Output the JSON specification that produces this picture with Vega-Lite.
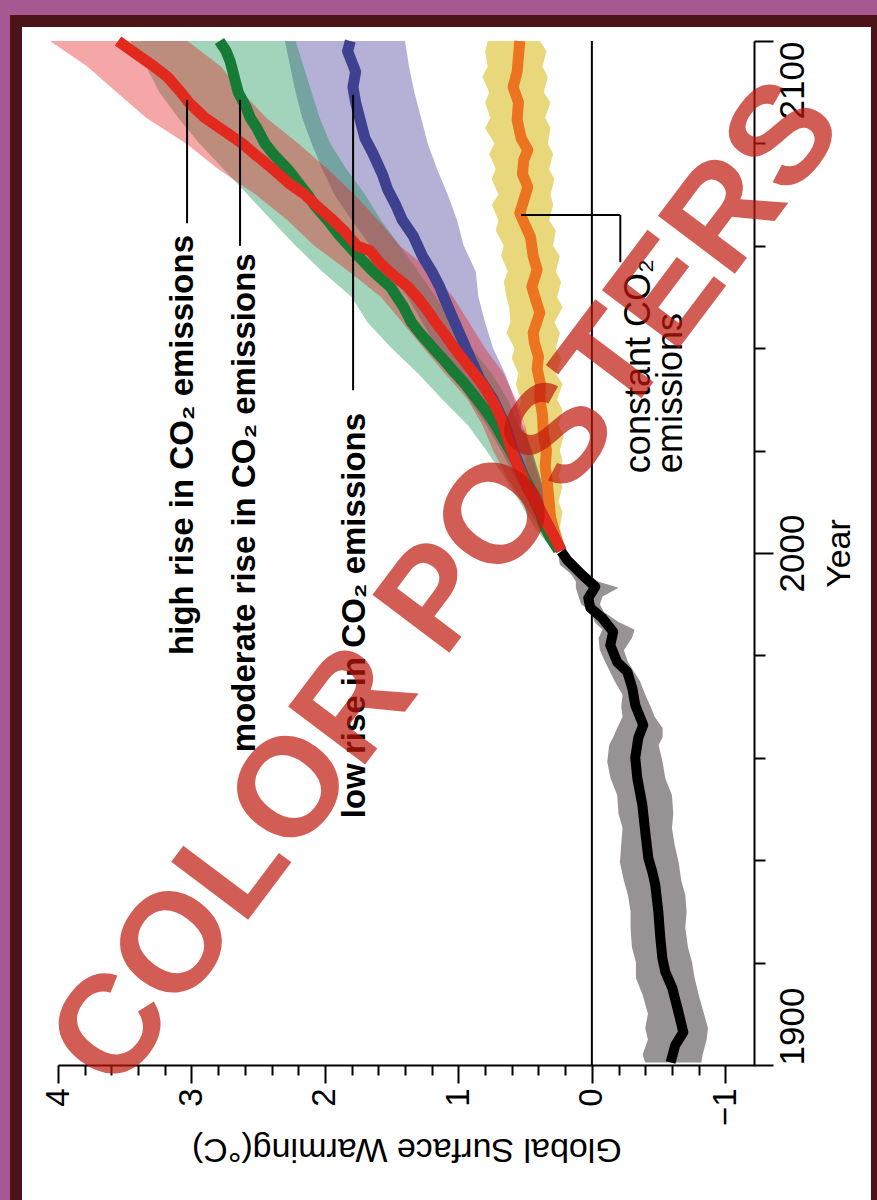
{
  "$schema": "https://vega.github.io/schema/vega-lite/v6.json",
  "width": 861,
  "height": 1187,
  "autosize": {"type": "none"},
  "padding": {"left": 16, "top": 21, "right": 0, "bottom": -8},
  "background": "#a65891",
  "config": {
    "view": {"fill": "#ffffff", "stroke": "#4b1418", "strokeWidth": 12},
    "font": "Liberation Sans"
  },
  "datasets": {
    "zero": [{"w": 0, "w2": 0, "year": 1900, "year2": 2100}],
    "hist_band": [
      {"year": 1900.5, "w": -0.82, "w2": -0.4}, {"year": 1902, "w": -0.83, "w2": -0.38}, {"year": 1905, "w": -0.86, "w2": -0.42},
      {"year": 1907.2, "w": -0.87, "w2": -0.4}, {"year": 1910, "w": -0.84, "w2": -0.42}, {"year": 1913.7, "w": -0.8, "w2": -0.38},
      {"year": 1917, "w": -0.77, "w2": -0.33}, {"year": 1920.1, "w": -0.75, "w2": -0.33}, {"year": 1923, "w": -0.72, "w2": -0.3},
      {"year": 1926.8, "w": -0.7, "w2": -0.29}, {"year": 1930, "w": -0.71, "w2": -0.29}, {"year": 1933.2, "w": -0.7, "w2": -0.27},
      {"year": 1936, "w": -0.67, "w2": -0.24}, {"year": 1939.6, "w": -0.65, "w2": -0.21}, {"year": 1943, "w": -0.62, "w2": -0.22},
      {"year": 1946.3, "w": -0.6, "w2": -0.23}, {"year": 1949, "w": -0.61, "w2": -0.2}, {"year": 1952.7, "w": -0.6, "w2": -0.19},
      {"year": 1956, "w": -0.55, "w2": -0.14}, {"year": 1959.2, "w": -0.53, "w2": -0.115}, {"year": 1962.5, "w": -0.5, "w2": -0.13},
      {"year": 1964, "w": -0.53, "w2": -0.16}, {"year": 1965.8, "w": -0.53, "w2": -0.19}, {"year": 1968, "w": -0.47, "w2": -0.23},
      {"year": 1970, "w": -0.44, "w2": -0.22}, {"year": 1972.3, "w": -0.4, "w2": -0.23}, {"year": 1975, "w": -0.36, "w2": -0.17},
      {"year": 1978.7, "w": -0.27, "w2": -0.1}, {"year": 1981, "w": -0.24, "w2": -0.06}, {"year": 1983.4, "w": -0.3, "w2": -0.05},
      {"year": 1985, "w": -0.32, "w2": -0.08}, {"year": 1986.5, "w": -0.2, "w2": -0.02}, {"year": 1988.5, "w": -0.09, "w2": 0.0},
      {"year": 1990, "w": -0.06, "w2": 0.08}, {"year": 1991.5, "w": -0.08, "w2": 0.1}, {"year": 1993.2, "w": -0.2, "w2": 0.12},
      {"year": 1994.5, "w": -0.04, "w2": 0.12}, {"year": 1996, "w": 0.03, "w2": 0.16}, {"year": 1997.7, "w": 0.12, "w2": 0.24},
      {"year": 1999.5, "w": 0.17, "w2": 0.25}
    ],
    "hist_line": [
      {"year": 1900.5, "w": -0.59}, {"year": 1903.9, "w": -0.625}, {"year": 1906.4, "w": -0.685}, {"year": 1910.4, "w": -0.648},
      {"year": 1915.0, "w": -0.603}, {"year": 1918.2, "w": -0.55}, {"year": 1920.9, "w": -0.528}, {"year": 1924.8, "w": -0.513},
      {"year": 1929.9, "w": -0.498}, {"year": 1935.2, "w": -0.475}, {"year": 1937.7, "w": -0.453}, {"year": 1940.4, "w": -0.423},
      {"year": 1945.5, "w": -0.4}, {"year": 1950.8, "w": -0.378}, {"year": 1956.1, "w": -0.34}, {"year": 1960.0, "w": -0.325},
      {"year": 1963.9, "w": -0.348}, {"year": 1966.4, "w": -0.385}, {"year": 1970.3, "w": -0.325}, {"year": 1973.6, "w": -0.303},
      {"year": 1976.8, "w": -0.265}, {"year": 1978.7, "w": -0.19}, {"year": 1982.0, "w": -0.138}, {"year": 1984.6, "w": -0.16},
      {"year": 1987.3, "w": -0.078}, {"year": 1989.3, "w": 0.012}, {"year": 1991.2, "w": 0.027}, {"year": 1993.4, "w": -0.025},
      {"year": 1995.7, "w": 0.072}, {"year": 1998.6, "w": 0.184}, {"year": 2000.3, "w": 0.23}
    ],
    "band_const": [
      {"year": 2000.5, "w": 0.19, "w2": 0.29}, {"year": 2003, "w": 0.22, "w2": 0.36}, {"year": 2005, "w": 0.24, "w2": 0.4},
      {"year": 2008, "w": 0.22, "w2": 0.42}, {"year": 2010, "w": 0.25, "w2": 0.44}, {"year": 2013, "w": 0.22, "w2": 0.47},
      {"year": 2015, "w": 0.25, "w2": 0.46}, {"year": 2018, "w": 0.22, "w2": 0.5}, {"year": 2020, "w": 0.24, "w2": 0.48},
      {"year": 2023, "w": 0.21, "w2": 0.52}, {"year": 2025, "w": 0.25, "w2": 0.5}, {"year": 2028, "w": 0.22, "w2": 0.55},
      {"year": 2030, "w": 0.26, "w2": 0.53}, {"year": 2033, "w": 0.22, "w2": 0.57}, {"year": 2035, "w": 0.27, "w2": 0.55},
      {"year": 2038, "w": 0.23, "w2": 0.6}, {"year": 2040, "w": 0.27, "w2": 0.58}, {"year": 2043, "w": 0.24, "w2": 0.64},
      {"year": 2045, "w": 0.28, "w2": 0.61}, {"year": 2048, "w": 0.22, "w2": 0.62}, {"year": 2050, "w": 0.26, "w2": 0.64},
      {"year": 2053, "w": 0.23, "w2": 0.66}, {"year": 2055, "w": 0.27, "w2": 0.63}, {"year": 2058, "w": 0.24, "w2": 0.68},
      {"year": 2060, "w": 0.29, "w2": 0.66}, {"year": 2063, "w": 0.27, "w2": 0.72}, {"year": 2065, "w": 0.32, "w2": 0.7},
      {"year": 2068, "w": 0.29, "w2": 0.75}, {"year": 2070, "w": 0.31, "w2": 0.7}, {"year": 2073, "w": 0.28, "w2": 0.75},
      {"year": 2075, "w": 0.32, "w2": 0.72}, {"year": 2078, "w": 0.29, "w2": 0.77}, {"year": 2080, "w": 0.33, "w2": 0.73},
      {"year": 2083, "w": 0.31, "w2": 0.8}, {"year": 2085, "w": 0.35, "w2": 0.76}, {"year": 2088, "w": 0.31, "w2": 0.8},
      {"year": 2090, "w": 0.36, "w2": 0.77}, {"year": 2093, "w": 0.33, "w2": 0.82}, {"year": 2095, "w": 0.37, "w2": 0.78},
      {"year": 2098, "w": 0.34, "w2": 0.8}, {"year": 2100, "w": 0.39, "w2": 0.78}
    ],
    "band_low": [
      {"year": 2000.5, "w": 0.2, "w2": 0.27}, {"year": 2005, "w": 0.26, "w2": 0.37}, {"year": 2010, "w": 0.33, "w2": 0.47},
      {"year": 2015, "w": 0.39, "w2": 0.58}, {"year": 2020, "w": 0.45, "w2": 0.68}, {"year": 2025, "w": 0.52, "w2": 0.79},
      {"year": 2030, "w": 0.58, "w2": 0.92}, {"year": 2035, "w": 0.65, "w2": 1.04}, {"year": 2040, "w": 0.74, "w2": 1.16},
      {"year": 2045, "w": 0.8, "w2": 1.27}, {"year": 2050, "w": 0.85, "w2": 1.38}, {"year": 2055, "w": 0.87, "w2": 1.52},
      {"year": 2060, "w": 0.96, "w2": 1.66}, {"year": 2065, "w": 1.01, "w2": 1.8}, {"year": 2070, "w": 1.08, "w2": 1.93},
      {"year": 2075, "w": 1.16, "w2": 2.02}, {"year": 2080, "w": 1.23, "w2": 2.1}, {"year": 2085, "w": 1.28, "w2": 2.17},
      {"year": 2090, "w": 1.33, "w2": 2.22}, {"year": 2095, "w": 1.37, "w2": 2.26}, {"year": 2100, "w": 1.4, "w2": 2.3}
    ],
    "band_mod": [
      {"year": 2000.5, "w": 0.21, "w2": 0.29}, {"year": 2005, "w": 0.28, "w2": 0.43}, {"year": 2010, "w": 0.33, "w2": 0.54},
      {"year": 2015, "w": 0.39, "w2": 0.66}, {"year": 2020, "w": 0.45, "w2": 0.79}, {"year": 2025, "w": 0.55, "w2": 0.93},
      {"year": 2030, "w": 0.63, "w2": 1.12}, {"year": 2035, "w": 0.75, "w2": 1.3}, {"year": 2040, "w": 0.9, "w2": 1.5},
      {"year": 2045, "w": 1.05, "w2": 1.68}, {"year": 2050, "w": 1.17, "w2": 1.8}, {"year": 2055, "w": 1.3, "w2": 2.02},
      {"year": 2060, "w": 1.44, "w2": 2.22}, {"year": 2065, "w": 1.58, "w2": 2.4}, {"year": 2070, "w": 1.7, "w2": 2.58},
      {"year": 2075, "w": 1.84, "w2": 2.76}, {"year": 2080, "w": 1.96, "w2": 2.94}, {"year": 2085, "w": 2.04, "w2": 3.1},
      {"year": 2090, "w": 2.1, "w2": 3.24}, {"year": 2095, "w": 2.16, "w2": 3.34}, {"year": 2100, "w": 2.22, "w2": 3.46}
    ],
    "band_high": [
      {"year": 2000.5, "w": 0.19, "w2": 0.27}, {"year": 2005, "w": 0.25, "w2": 0.39}, {"year": 2010, "w": 0.33, "w2": 0.52},
      {"year": 2015, "w": 0.4, "w2": 0.64}, {"year": 2020, "w": 0.46, "w2": 0.74}, {"year": 2025, "w": 0.5, "w2": 0.82},
      {"year": 2030, "w": 0.57, "w2": 0.93}, {"year": 2035, "w": 0.66, "w2": 1.1}, {"year": 2040, "w": 0.8, "w2": 1.26},
      {"year": 2045, "w": 0.92, "w2": 1.42}, {"year": 2050, "w": 1.04, "w2": 1.58}, {"year": 2055, "w": 1.2, "w2": 1.82},
      {"year": 2060, "w": 1.44, "w2": 2.08}, {"year": 2065, "w": 1.6, "w2": 2.28}, {"year": 2070, "w": 1.78, "w2": 2.52},
      {"year": 2075, "w": 1.98, "w2": 2.8}, {"year": 2080, "w": 2.2, "w2": 3.04}, {"year": 2085, "w": 2.44, "w2": 3.34},
      {"year": 2090, "w": 2.62, "w2": 3.56}, {"year": 2095, "w": 2.78, "w2": 3.78}, {"year": 2100, "w": 3.03, "w2": 4.06}
    ],
    "line_const": [
      {"year": 2000.5, "w": 0.24}, {"year": 2004, "w": 0.28}, {"year": 2007, "w": 0.31}, {"year": 2010, "w": 0.32},
      {"year": 2013.7, "w": 0.334}, {"year": 2017, "w": 0.35}, {"year": 2020, "w": 0.34}, {"year": 2023.4, "w": 0.364},
      {"year": 2027, "w": 0.37}, {"year": 2030, "w": 0.39}, {"year": 2033.2, "w": 0.387}, {"year": 2036, "w": 0.41},
      {"year": 2038.3, "w": 0.4}, {"year": 2041, "w": 0.43}, {"year": 2043, "w": 0.44}, {"year": 2046.9, "w": 0.39},
      {"year": 2049.4, "w": 0.42}, {"year": 2052, "w": 0.45}, {"year": 2055.3, "w": 0.41}, {"year": 2058, "w": 0.44},
      {"year": 2061.7, "w": 0.46}, {"year": 2064, "w": 0.5}, {"year": 2066.4, "w": 0.54}, {"year": 2068.9, "w": 0.51},
      {"year": 2071.5, "w": 0.48}, {"year": 2074, "w": 0.52}, {"year": 2076.8, "w": 0.51}, {"year": 2078.7, "w": 0.48},
      {"year": 2081, "w": 0.53}, {"year": 2084.6, "w": 0.56}, {"year": 2088, "w": 0.55}, {"year": 2091, "w": 0.59},
      {"year": 2094, "w": 0.56}, {"year": 2097, "w": 0.55}, {"year": 2100, "w": 0.54}
    ],
    "line_low": [
      {"year": 2000.5, "w": 0.23}, {"year": 2005, "w": 0.32}, {"year": 2010, "w": 0.42}, {"year": 2015, "w": 0.51},
      {"year": 2020, "w": 0.59}, {"year": 2025, "w": 0.65}, {"year": 2030, "w": 0.74}, {"year": 2034, "w": 0.84},
      {"year": 2038, "w": 0.91}, {"year": 2041, "w": 0.96}, {"year": 2044, "w": 1.01}, {"year": 2047, "w": 1.06},
      {"year": 2050, "w": 1.11}, {"year": 2052, "w": 1.14}, {"year": 2055, "w": 1.2}, {"year": 2058, "w": 1.27},
      {"year": 2062, "w": 1.34}, {"year": 2065, "w": 1.42}, {"year": 2068, "w": 1.47}, {"year": 2071, "w": 1.53},
      {"year": 2074, "w": 1.57}, {"year": 2078, "w": 1.64}, {"year": 2081, "w": 1.7}, {"year": 2085, "w": 1.74},
      {"year": 2088, "w": 1.77}, {"year": 2091, "w": 1.79}, {"year": 2094, "w": 1.77}, {"year": 2096, "w": 1.8},
      {"year": 2098, "w": 1.83}, {"year": 2100, "w": 1.81}
    ],
    "line_mod": [
      {"year": 2000.5, "w": 0.25}, {"year": 2003, "w": 0.31}, {"year": 2005, "w": 0.35}, {"year": 2008, "w": 0.39},
      {"year": 2010, "w": 0.43}, {"year": 2013, "w": 0.47}, {"year": 2015, "w": 0.51}, {"year": 2018, "w": 0.57},
      {"year": 2020, "w": 0.61}, {"year": 2023, "w": 0.68}, {"year": 2025, "w": 0.72}, {"year": 2028, "w": 0.8},
      {"year": 2030, "w": 0.86}, {"year": 2033, "w": 0.95}, {"year": 2035, "w": 1.02}, {"year": 2038, "w": 1.12},
      {"year": 2040, "w": 1.19}, {"year": 2043, "w": 1.29}, {"year": 2045, "w": 1.35}, {"year": 2048, "w": 1.41},
      {"year": 2050, "w": 1.46}, {"year": 2052, "w": 1.51}, {"year": 2055, "w": 1.64}, {"year": 2058, "w": 1.75},
      {"year": 2060, "w": 1.82}, {"year": 2062, "w": 1.89}, {"year": 2065, "w": 1.98}, {"year": 2068, "w": 2.08},
      {"year": 2070, "w": 2.13}, {"year": 2072, "w": 2.19}, {"year": 2075, "w": 2.28}, {"year": 2078, "w": 2.39},
      {"year": 2080, "w": 2.45}, {"year": 2083, "w": 2.51}, {"year": 2085, "w": 2.56}, {"year": 2087, "w": 2.59},
      {"year": 2090, "w": 2.65}, {"year": 2092, "w": 2.67}, {"year": 2094, "w": 2.69}, {"year": 2096, "w": 2.71},
      {"year": 2098, "w": 2.74}, {"year": 2100, "w": 2.79}
    ],
    "line_high": [
      {"year": 2000.5, "w": 0.23}, {"year": 2003, "w": 0.28}, {"year": 2005, "w": 0.32}, {"year": 2008, "w": 0.38},
      {"year": 2010, "w": 0.42}, {"year": 2013, "w": 0.49}, {"year": 2015, "w": 0.52}, {"year": 2018, "w": 0.57},
      {"year": 2020, "w": 0.6}, {"year": 2023, "w": 0.64}, {"year": 2025, "w": 0.66}, {"year": 2028, "w": 0.71},
      {"year": 2030, "w": 0.75}, {"year": 2033, "w": 0.82}, {"year": 2035, "w": 0.88}, {"year": 2038, "w": 0.97},
      {"year": 2040, "w": 1.03}, {"year": 2043, "w": 1.11}, {"year": 2045, "w": 1.17}, {"year": 2048, "w": 1.25},
      {"year": 2050, "w": 1.31}, {"year": 2052, "w": 1.38}, {"year": 2055, "w": 1.52}, {"year": 2057, "w": 1.6},
      {"year": 2059, "w": 1.66}, {"year": 2060, "w": 1.76}, {"year": 2063, "w": 1.86}, {"year": 2065, "w": 1.94},
      {"year": 2068, "w": 2.07}, {"year": 2070, "w": 2.15}, {"year": 2072, "w": 2.26}, {"year": 2075, "w": 2.39},
      {"year": 2078, "w": 2.53}, {"year": 2080, "w": 2.62}, {"year": 2082, "w": 2.73}, {"year": 2085, "w": 2.9},
      {"year": 2088, "w": 3.02}, {"year": 2090, "w": 3.08}, {"year": 2093, "w": 3.18}, {"year": 2095, "w": 3.28},
      {"year": 2097, "w": 3.39}, {"year": 2100, "w": 3.55}
    ],
    "connectors": [
      {"w": 3.033, "w2": 3.033, "year": 2088.5, "year2": 2064.4},
      {"w": 2.636, "w2": 2.636, "year": 2088.5, "year2": 2060.0},
      {"w": 1.789, "w2": 1.789, "year": 2089.5, "year2": 2031.8},
      {"w": 0.53, "w2": -0.213, "year": 2066.0, "year2": 2066.0},
      {"w": -0.213, "w2": -0.213, "year": 2066.0, "year2": 2056.8}
    ],
    "labels_bold": [
      {"w": 2.988, "year": 1980.1, "label": "high rise in CO₂ emissions"},
      {"w": 2.523, "year": 1961.1, "label": "moderate rise in CO₂ emissions"},
      {"w": 1.699, "year": 1948.2, "label": "low rise in CO₂ emissions"}
    ],
    "labels_regular": [
      {"w": -0.438, "year": 2015.6, "label": "constant CO₂"},
      {"w": -0.678, "year": 2015.6, "label": "emissions"}
    ],
    "watermark": [{"w": 1.08, "year": 1993.7, "label": "COLOR POSTERS"}]
  },
  "encoding": {
    "x": {
      "field": "w",
      "type": "quantitative",
      "scale": {"domain": [4, -1.22], "range": [42, 738.7], "nice": false, "zero": false},
      "axis": {
        "orient": "bottom",
        "offset": -143,
        "values": [4, 3.8, 3.6, 3.4, 3.2, 3, 2.8, 2.6, 2.4, 2.2, 2, 1.8, 1.6, 1.4, 1.2, 1, 0.8, 0.6, 0.4, 0.2, 0, -0.2, -0.4, -0.6, -0.8, -1],
        "tickCount": 100,
        "tickMinStep": 0.1,
        "labelExpr": "abs(datum.value % 1) < 0.001 ? format(datum.value, 'd') : ''",
        "tickSize": {"condition": {"test": "abs(datum.value % 1) < 0.001", "value": 18}, "value": 10},
        "tickColor": "#000000",
        "tickWidth": 2,
        "domainColor": "#000000",
        "domainWidth": 2,
        "grid": false,
        "labelAngle": 270,
        "labelAlign": "right",
        "labelBaseline": "middle",
        "labelPadding": 5,
        "labelFontSize": 33,
        "labelColor": "#000000",
        "labelOverlap": false,
        "labelFlush": false,
        "title": "Global Surface Warming(°C)",
        "titleAngle": 180,
        "titleBaseline": "bottom",
        "titleFontSize": 34,
        "titleFontWeight": "normal",
        "titleColor": "#000000",
        "titlePadding": 6
      }
    },
    "y": {
      "field": "year",
      "type": "quantitative",
      "scale": {"domain": [1900, 2100], "range": [1044, 20], "nice": false, "zero": false},
      "axis": {
        "orient": "right",
        "offset": -123,
        "values": [1900, 1920, 1940, 1960, 1980, 2000, 2020, 2040, 2060, 2080, 2100],
        "tickCount": 100,
        "format": "d",
        "labelExpr": "datum.value % 100 === 0 ? datum.label : ''",
        "tickSize": {"condition": {"test": "datum.value % 100 === 0", "value": 19}, "value": 11},
        "tickColor": "#000000",
        "tickWidth": 2,
        "domainColor": "#000000",
        "domainWidth": 2,
        "grid": false,
        "labelAngle": 270,
        "labelAlign": {"condition": [{"test": "datum.value === 2100", "value": "right"}, {"test": "datum.value === 1900", "value": "left"}], "value": "center"},
        "labelBaseline": "top",
        "labelPadding": 2,
        "labelFontSize": 35,
        "labelColor": "#000000",
        "labelOverlap": false,
        "labelFlush": false,
        "title": "Year",
        "titleAngle": 270,
        "titleBaseline": "top",
        "titleFontSize": 34,
        "titleFontWeight": "normal",
        "titleColor": "#000000",
        "titlePadding": 12
      }
    }
  },
  "layer": [
    {
      "data": {"name": "zero"},
      "mark": {"type": "rule", "color": "#000000", "strokeWidth": 2},
      "encoding": {"x2": {"field": "w2"}, "y2": {"field": "year2"}}
    },
    {
      "data": {"name": "hist_band"},
      "mark": {"type": "area", "orient": "horizontal", "color": "#979395", "opacity": 1},
      "encoding": {"x2": {"field": "w2"}}
    },
    {
      "data": {"name": "band_const"},
      "mark": {"type": "area", "orient": "horizontal", "color": "#e9d87b", "opacity": 1},
      "encoding": {"x2": {"field": "w2"}}
    },
    {
      "data": {"name": "band_low"},
      "mark": {"type": "area", "orient": "horizontal", "color": "#443a98", "opacity": 0.4},
      "encoding": {"x2": {"field": "w2"}}
    },
    {
      "data": {"name": "band_mod"},
      "mark": {"type": "area", "orient": "horizontal", "color": "#169155", "opacity": 0.4},
      "encoding": {"x2": {"field": "w2"}}
    },
    {
      "data": {"name": "band_high"},
      "mark": {"type": "area", "orient": "horizontal", "color": "#e32320", "opacity": 0.4},
      "encoding": {"x2": {"field": "w2"}}
    },
    {
      "data": {"name": "hist_line"},
      "mark": {"type": "line", "color": "#000000", "strokeWidth": 10, "strokeJoin": "round"},
      "encoding": {"order": {"field": "year", "type": "quantitative"}}
    },
    {
      "data": {"name": "line_const"},
      "mark": {"type": "line", "color": "#ec7320", "strokeWidth": 11, "strokeJoin": "round"},
      "encoding": {"order": {"field": "year", "type": "quantitative"}}
    },
    {
      "data": {"name": "line_low"},
      "mark": {"type": "line", "color": "#3d418f", "strokeWidth": 11, "strokeJoin": "round"},
      "encoding": {"order": {"field": "year", "type": "quantitative"}}
    },
    {
      "data": {"name": "line_mod"},
      "mark": {"type": "line", "color": "#177a35", "strokeWidth": 11, "strokeJoin": "round"},
      "encoding": {"order": {"field": "year", "type": "quantitative"}}
    },
    {
      "data": {"name": "line_high"},
      "mark": {"type": "line", "color": "#e2291d", "strokeWidth": 11, "strokeJoin": "round"},
      "encoding": {"order": {"field": "year", "type": "quantitative"}}
    },
    {
      "data": {"name": "connectors"},
      "mark": {"type": "rule", "color": "#000000", "strokeWidth": 2},
      "encoding": {"x2": {"field": "w2"}, "y2": {"field": "year2"}}
    },
    {
      "data": {"name": "labels_bold"},
      "mark": {"type": "text", "angle": 270, "align": "left", "baseline": "alphabetic", "fontSize": 33, "fontWeight": "bold", "color": "#000000"},
      "encoding": {"text": {"field": "label", "type": "nominal"}}
    },
    {
      "data": {"name": "labels_regular"},
      "mark": {"type": "text", "angle": 270, "align": "left", "baseline": "alphabetic", "fontSize": 36, "fontWeight": "normal", "color": "#000000"},
      "encoding": {"text": {"field": "label", "type": "nominal"}}
    },
    {
      "data": {"name": "watermark"},
      "mark": {"type": "text", "angle": 307, "align": "center", "baseline": "middle", "fontSize": 140, "fontWeight": "bold", "color": "#c0190d", "opacity": 0.7},
      "encoding": {"text": {"field": "label", "type": "nominal"}}
    }
  ]
}
